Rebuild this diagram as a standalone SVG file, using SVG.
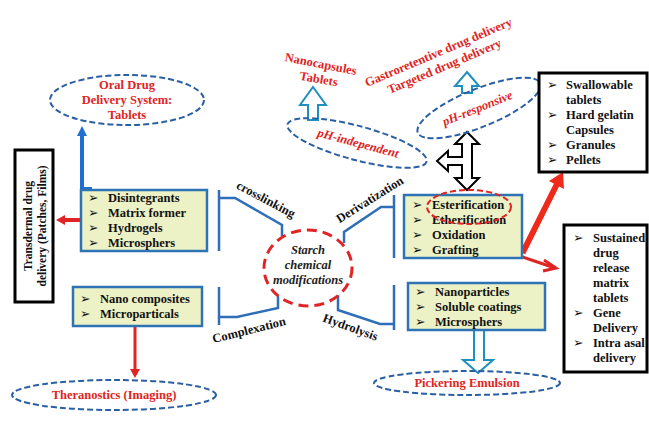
<svg xmlns="http://www.w3.org/2000/svg" width="649" height="430" viewBox="0 0 649 430">
<defs>
<style>
.bx{fill:#ecf2c6;stroke:#2e74b5;stroke-width:2.5}
.bk{fill:#fff;stroke:#000;stroke-width:3}
.t{font-family:"Liberation Serif",serif;font-weight:bold;font-size:12.5px;fill:#111}
.b{font-family:"DejaVu Sans",sans-serif;font-size:12.5px;fill:#111}
.r{font-family:"Liberation Serif",serif;font-weight:bold;font-size:12.5px;fill:#e02424}
.ri{font-family:"Liberation Serif",serif;font-weight:bold;font-style:italic;font-size:12.5px;fill:#e02424}
.ci{font-family:"Liberation Serif",serif;font-style:italic;font-weight:bold;font-size:12.5px;fill:#222}
.de{fill:none;stroke:#2b5fa3;stroke-width:2;stroke-dasharray:6 3}
.con{fill:none;stroke:#2e6fb8;stroke-width:2.5}
.ha{fill:#fff;stroke:#1f8fc0;stroke-width:2}
</style>
</defs>
<rect width="649" height="430" fill="#fff"/>

<g id="connectors">
<path class="con" d="M219,190 V251 M219,198 H235 L282,225 V236"/>
<path class="con" d="M394,195 V258 M394,207 H381 L344,232 V243"/>
<path class="con" d="M219,287 V325 M219,317 H237 L278,308 V295"/>
<path class="con" d="M394,285 V330 M394,324 H380 L338,310 V293"/>
<text class="t" transform="translate(264,203) rotate(28)" text-anchor="middle">crosslinking</text>
<text class="t" transform="translate(372,203) rotate(-32)" text-anchor="middle">Derivatization</text>
<text class="t" transform="translate(250,334) rotate(-14)" text-anchor="middle">Complexation</text>
<text class="t" transform="translate(349,331) rotate(20)" text-anchor="middle">Hydrolysis</text>
<path d="M92,189 H82 V134" fill="none" stroke="#1f6fd0" stroke-width="4"/>
<polygon points="82,126 87,136 77,136" fill="#1f6fd0"/>
<line x1="81" y1="220" x2="63" y2="220" stroke="#e02424" stroke-width="4"/>
<polygon points="56,220 65,215 65,225" fill="#e02424"/>
<line x1="135" y1="326" x2="135" y2="370" stroke="#e02424" stroke-width="3"/>
<polygon points="135,378 130,369 140,369" fill="#e02424"/>
<polyline points="507,238 524,250 557,184" fill="none" stroke="#ee2a1a" stroke-width="6"/>
<polygon points="563,172 564,189 549,181" fill="#ee2a1a"/>
<line x1="502" y1="250" x2="555" y2="268" stroke="#e02424" stroke-width="3"/>
<polyline points="544,260 556,268 543,271" fill="none" stroke="#e02424" stroke-width="3"/>
<polygon class="ha" points="313,87 326,105 318,105 318,120 308,120 308,105 300,105"/>
<polygon class="ha" points="467,72 479,86 472,86 472,93 462,93 462,86 455,86"/>
<polygon class="ha" points="478,373 493,360 484,360 484,330 474,330 474,360 463,360"/>
<polygon points="467,132 479,144 472,144 472,178 479,178 467,190 455,178 462,178 462,165 448,165 448,171 437,161 448,151 448,157 462,157 462,144 455,144" fill="#fff" stroke="#000" stroke-width="2"/>
</g>

<g id="oral">
<ellipse class="de" cx="127" cy="100" rx="77" ry="25"/>
<text class="r" x="127" y="89" text-anchor="middle">Oral Drug</text>
<text class="r" x="127" y="104" text-anchor="middle">Delivery System:</text>
<text class="r" x="127" y="119" text-anchor="middle">Tablets</text>
</g>

<g id="transdermal">
<rect class="bk" x="15" y="150" width="38" height="152"/>
<text class="t" style="font-size:11.5px" transform="translate(32,226) rotate(-90)" text-anchor="middle">Transdermal drug</text>
<text class="t" style="font-size:11.5px" transform="translate(46,226) rotate(-90)" text-anchor="middle">delivery (Patches, Films)</text>
</g>

<g id="box1">
<rect class="bx" x="81" y="190" width="126" height="61"/>
<text class="b" x="88" y="202">➢</text><text class="t" x="108" y="202">Disintegrants</text>
<text class="b" x="88" y="217">➢</text><text class="t" x="108" y="217">Matrix former</text>
<text class="b" x="88" y="232">➢</text><text class="t" x="108" y="232">Hydrogels</text>
<text class="b" x="88" y="247">➢</text><text class="t" x="108" y="247">Microsphers</text>
</g>

<g id="box2">
<rect class="bx" x="73" y="287" width="129" height="39"/>
<text class="b" x="80" y="303">➢</text><text class="t" x="100" y="303">Nano composites</text>
<text class="b" x="80" y="318">➢</text><text class="t" x="100" y="318">Microparticals</text>
</g>

<g id="theranostics">
<ellipse class="de" cx="114" cy="395" rx="102" ry="15"/>
<text class="r" x="114" y="399" text-anchor="middle">Theranostics (Imaging)</text>
</g>

<g id="center">
<ellipse cx="308" cy="268" rx="44" ry="38" fill="#fff" stroke="#e02424" stroke-width="3" stroke-dasharray="10 6"/>
<text class="ci" x="308" y="254" text-anchor="middle">Starch</text>
<text class="ci" x="308" y="269" text-anchor="middle">chemical</text>
<text class="ci" x="308" y="284" text-anchor="middle">modifications</text>
</g>

<g id="nanocapsules">
<text class="r" transform="translate(320,68) rotate(11)" text-anchor="middle">Nanocapsules</text>
<text class="r" transform="translate(318,83) rotate(10)" text-anchor="middle">Tablets</text>
</g>

<g id="gastro">
<text class="r" transform="translate(440,56) rotate(-23)" text-anchor="middle">Gastroretentive drug delivery</text>
<text class="r" transform="translate(446,70) rotate(-23)" text-anchor="middle">Targeted drug delivery</text>
</g>

<g id="ph-independent">
<ellipse class="de" transform="translate(357,143) rotate(15)" rx="72" ry="17"/>
<text class="ri" transform="translate(357,147) rotate(15)" text-anchor="middle">pH-independent</text>
</g>

<g id="ph-responsive">
<ellipse class="de" transform="translate(479,108) rotate(-22)" rx="66" ry="19"/>
<text class="ri" transform="translate(479,112) rotate(-22)" text-anchor="middle">pH-responsive</text>
</g>

<g id="box3">
<rect class="bx" x="404" y="195" width="118" height="63"/>
<text class="b" x="412" y="209">➢</text><text class="t" x="432" y="209">Esterification</text>
<text class="b" x="412" y="224">➢</text><text class="t" x="432" y="224">Etherification</text>
<text class="b" x="412" y="239">➢</text><text class="t" x="432" y="239">Oxidation</text>
<text class="b" x="412" y="254">➢</text><text class="t" x="432" y="254">Grafting</text>
<ellipse cx="469" cy="207" rx="42" ry="17" fill="none" stroke="#e02424" stroke-width="2" stroke-dasharray="6 3"/>
</g>

<g id="box4">
<rect class="bx" x="408" y="283" width="137" height="47"/>
<text class="b" x="415" y="296">➢</text><text class="t" x="435" y="296">Nanoparticles</text>
<text class="b" x="415" y="311">➢</text><text class="t" x="435" y="311">Soluble coatings</text>
<text class="b" x="415" y="326">➢</text><text class="t" x="435" y="326">Microsphers</text>
</g>

<g id="pickering">
<ellipse class="de" cx="467" cy="383" rx="93" ry="12"/>
<text class="r" x="467" y="387" text-anchor="middle">Pickering Emulsion</text>
</g>

<g id="box5">
<rect class="bk" x="539" y="73" width="108" height="99"/>
<text class="b" x="547" y="89">➢</text><text class="t" x="566" y="89">Swallowable</text>
<text class="t" x="566" y="104">tablets</text>
<text class="b" x="547" y="119">➢</text><text class="t" x="566" y="119">Hard gelatin</text>
<text class="t" x="566" y="134">Capsules</text>
<text class="b" x="547" y="149">➢</text><text class="t" x="566" y="149">Granules</text>
<text class="b" x="547" y="164">➢</text><text class="t" x="566" y="164">Pellets</text>
</g>

<g id="box6">
<rect class="bk" x="564" y="225" width="83" height="147"/>
<text class="b" x="573" y="242">➢</text><text class="t" x="593" y="242">Sustained</text>
<text class="t" x="593" y="257">drug</text>
<text class="t" x="593" y="272">release</text>
<text class="t" x="593" y="287">matrix</text>
<text class="t" x="593" y="302">tablets</text>
<text class="b" x="573" y="317">➢</text><text class="t" x="593" y="317">Gene</text>
<text class="t" x="593" y="332">Delivery</text>
<text class="b" x="573" y="347">➢</text><text class="t" x="593" y="347">Intra asal</text>
<text class="t" x="593" y="362">delivery</text>
</g>
</svg>
